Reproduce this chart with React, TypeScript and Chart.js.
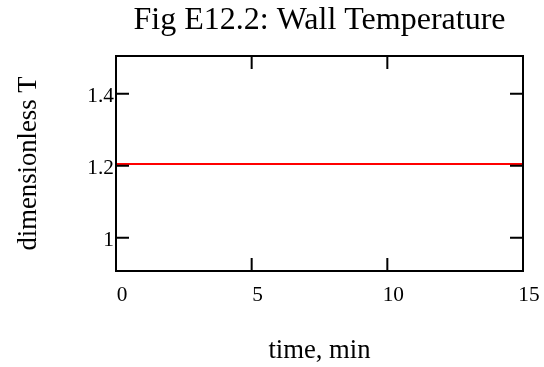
import { useEffect, useRef } from 'react';
import { Chart, registerables } from 'chart.js';

Chart.register(...registerables);

const timeMin = [0, 15];
const wallTemp = [1.205, 1.205];
const xTicks = [0, 5, 10, 15];
const yTicks = [1, 1.2, 1.4];
const xRange = [0, 15];
const yRange = [0.908, 1.505];

const SERIF = "'Liberation Serif', 'Times New Roman', serif";

export default function App() {
  const ref = useRef<HTMLCanvasElement>(null);

  useEffect(() => {
    const frame = {
      id: 'frame',
      afterDatasetsDraw(chart: any) {
        const { ctx, chartArea } = chart;
        const { left, right, top, bottom } = chartArea;
        const xs = chart.scales.x;
        const ys = chart.scales.y;
        const len = 13;
        ctx.save();
        ctx.strokeStyle = '#000';
        ctx.lineWidth = 2;
        ctx.beginPath();
        for (const v of yTicks) {
          const py = ys.getPixelForValue(v);
          ctx.moveTo(left, py);
          ctx.lineTo(left + len, py);
          ctx.moveTo(right, py);
          ctx.lineTo(right - len, py);
        }
        for (const v of xTicks) {
          const px = xs.getPixelForValue(v);
          ctx.moveTo(px, bottom);
          ctx.lineTo(px, bottom - len);
          ctx.moveTo(px, top);
          ctx.lineTo(px, top + len);
        }
        ctx.stroke();
        ctx.strokeRect(left, top, right - left, bottom - top);
        ctx.restore();
      },
    };

    const chart = new Chart(ref.current!, {
      type: 'line',
      data: {
        datasets: [
          {
            data: timeMin.map((t, i) => ({ x: t, y: wallTemp[i] })),
            borderColor: '#ff0000',
            borderWidth: 2,
            pointRadius: 0,
            tension: 0,
          },
        ],
      },
      options: {
        animation: false,
        responsive: false,
        devicePixelRatio: 1,
        layout: { padding: { left: 0, right: 21, top: 0, bottom: 0 } },
        plugins: {
          legend: { display: false },
          tooltip: { enabled: false },
          title: {
            display: true,
            text: 'Fig E12.2: Wall Temperature',
            fullSize: false,
            color: '#000',
            font: { family: SERIF, size: 32, weight: 'normal', lineHeight: 1.2 },
            padding: { top: 1.7, bottom: 15.9 },
          },
        },
        scales: {
          x: {
            type: 'linear',
            min: xRange[0],
            max: xRange[1],
            afterBuildTicks: (s: any) => {
              s.ticks = xTicks.map((v) => ({ value: v }));
            },
            afterFit: (s: any) => {
              s.height = 96;
              s.paddingLeft = 0;
              s.paddingRight = 0;
            },
            grid: { display: false, drawTicks: false },
            border: { display: false },
            ticks: {
              padding: 12,
              labelOffset: 6,
              color: '#000',
              autoSkip: false,
              maxRotation: 0,
              font: { family: SERIF, size: 21.33, lineHeight: 1.2 },
              callback: (v: any) => String(v),
            },
            title: {
              display: true,
              text: 'time, min',
              color: '#000',
              font: { family: SERIF, size: 26.67, lineHeight: 1.2 },
              padding: { top: 0, bottom: 0 },
            },
          },
          y: {
            type: 'linear',
            min: yRange[0],
            max: yRange[1],
            afterBuildTicks: (s: any) => {
              s.ticks = yTicks.map((v) => ({ value: v }));
            },
            afterFit: (s: any) => {
              s.width = 116;
              s.paddingTop = 0;
              s.paddingBottom = 0;
            },
            grid: { display: false, drawTicks: false },
            border: { display: false },
            ticks: {
              padding: 2,
              labelOffset: 2.5,
              color: '#000',
              autoSkip: false,
              font: { family: SERIF, size: 21.33, lineHeight: 1.2 },
              callback: (v: any) => String(v),
            },
            title: {
              display: true,
              text: 'dimensionless T',
              color: '#000',
              font: { family: SERIF, size: 26.67, lineHeight: 1.2 },
              padding: { top: 13, bottom: 0 },
            },
          },
        },
      },
      plugins: [frame],
    } as any);

    return () => chart.destroy();
  }, []);

  return (
    <div style={{ position: 'absolute', left: 0, top: 0, width: 544, height: 367, background: '#fff' }}>
      <canvas ref={ref} width={544} height={367} style={{ display: 'block' }} />
    </div>
  );
}
